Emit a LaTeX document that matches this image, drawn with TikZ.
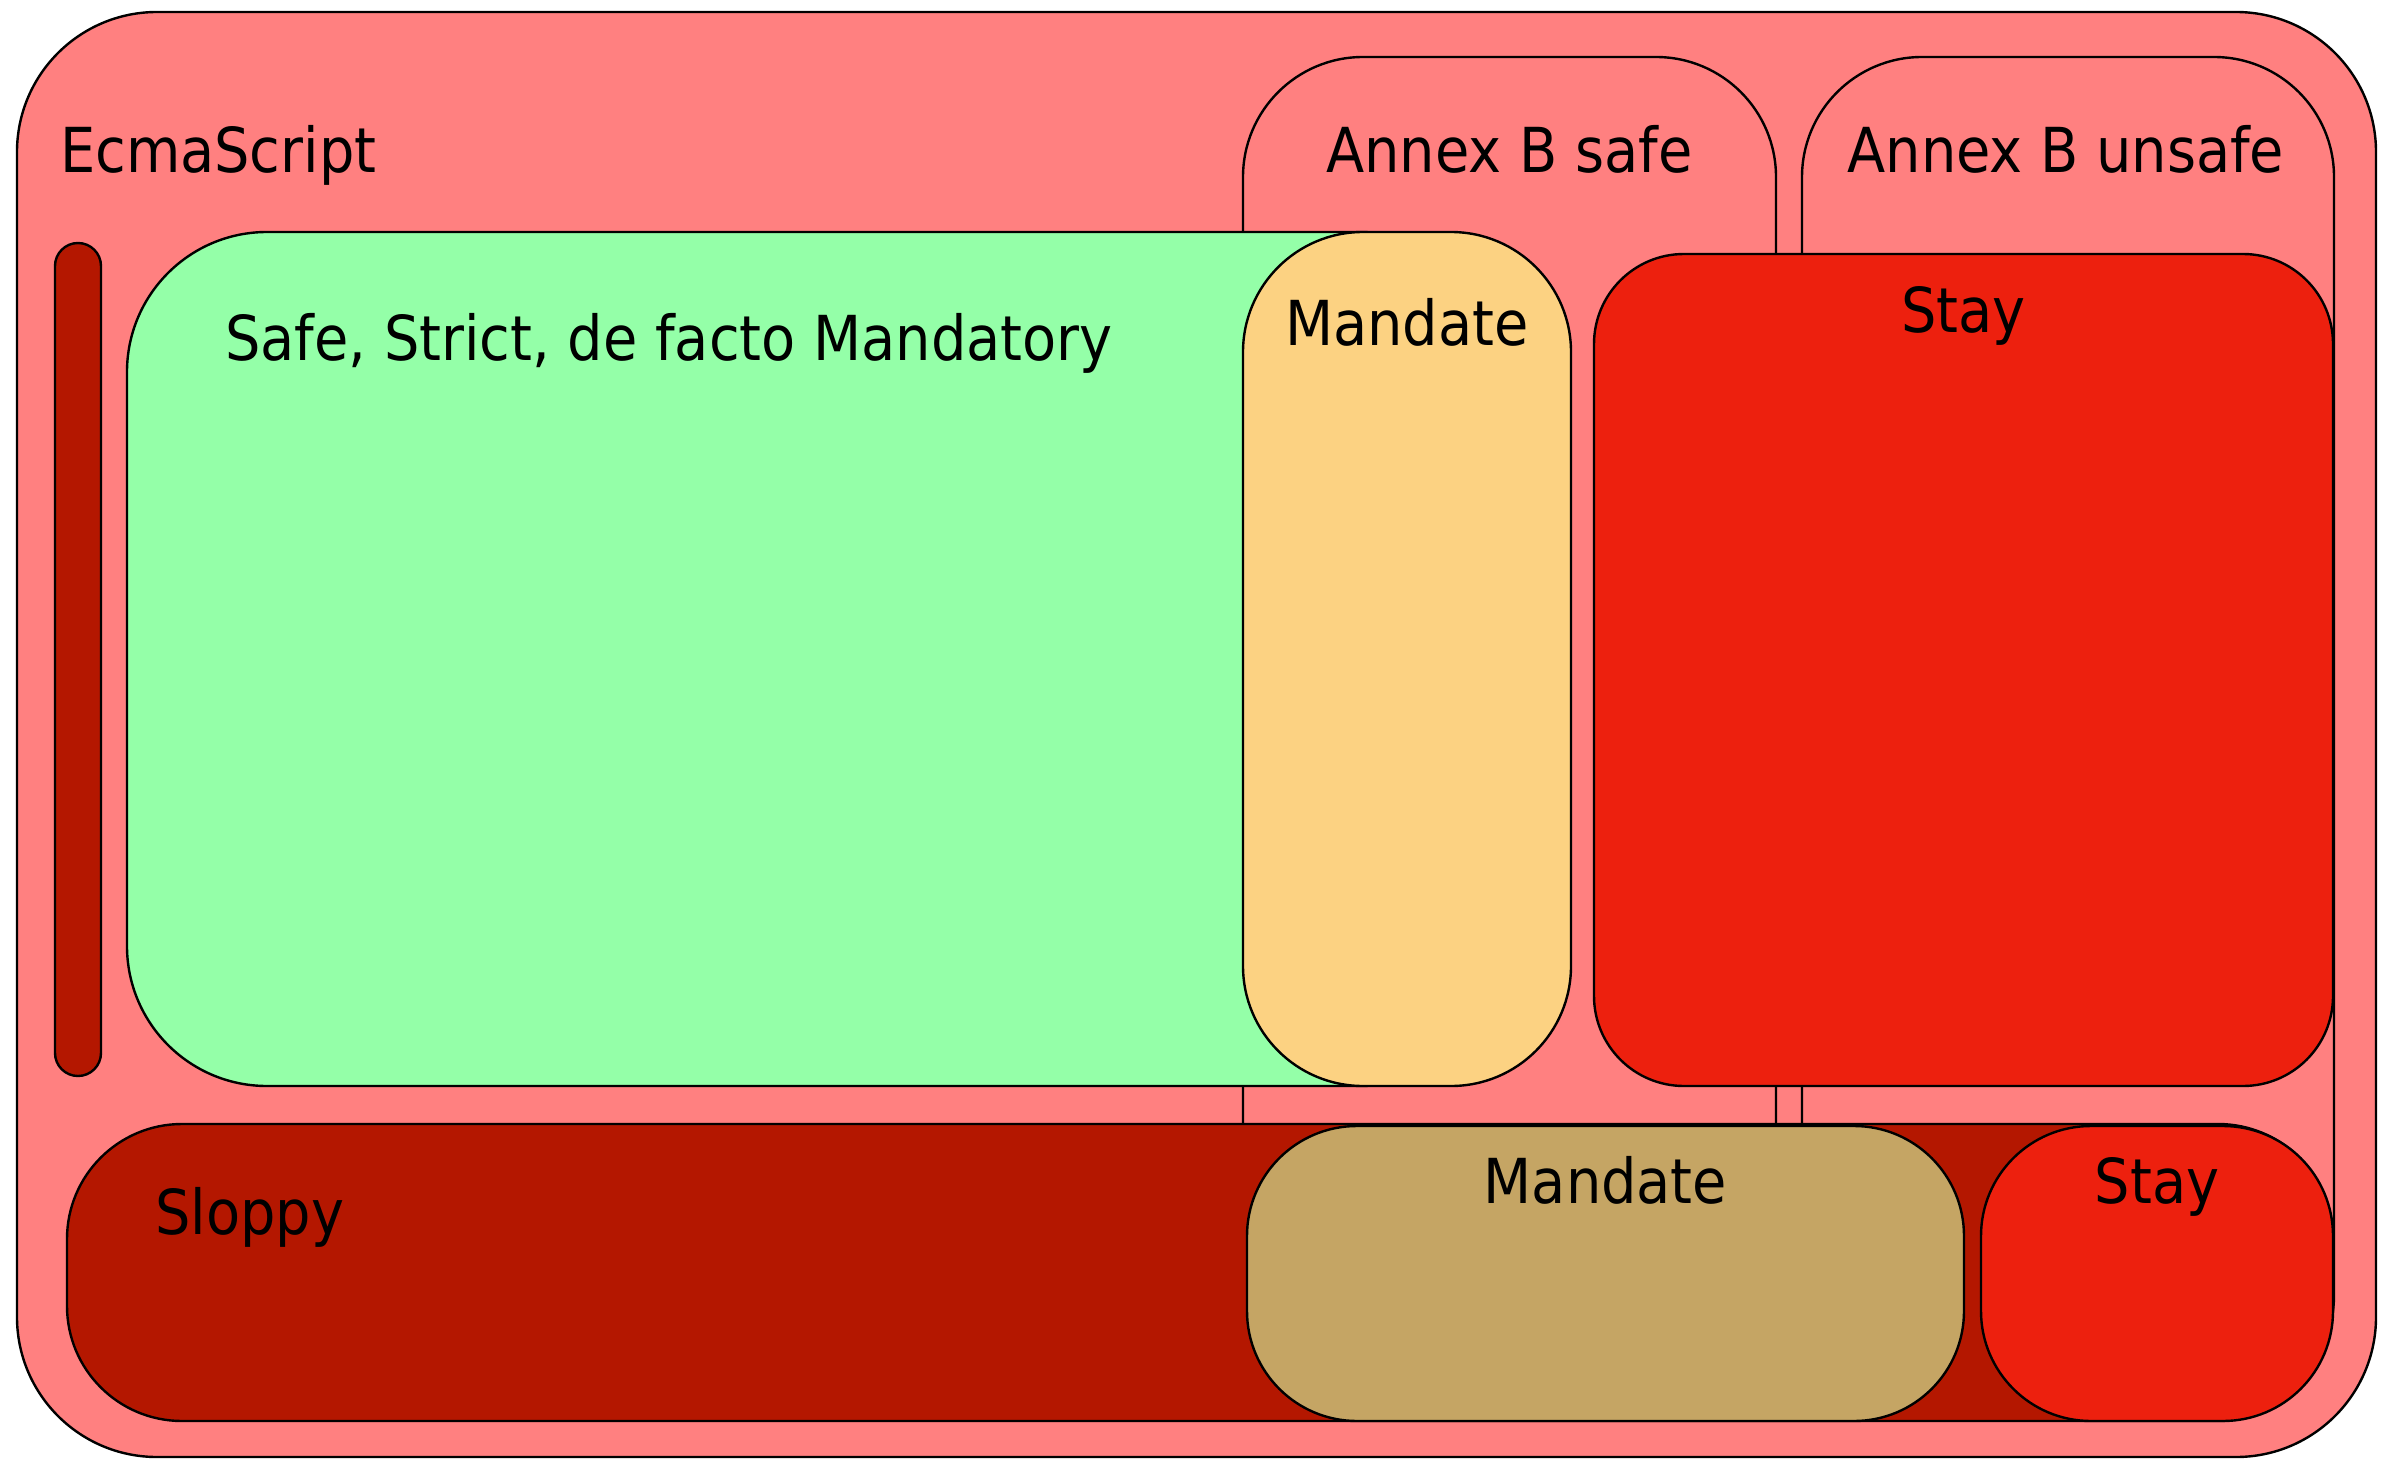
\documentclass[tikz,border=0pt]{standalone}
\usepackage{fontspec}
\setmainfont{DejaVu Sans Condensed}
\definecolor{salmon}{RGB}{255,128,128}
\definecolor{mint}{RGB}{148,255,168}
\definecolor{peach}{RGB}{252,210,130}
\definecolor{brightred}{RGB}{237,32,14}
\definecolor{darkred}{RGB}{180,23,0}
\definecolor{tan}{RGB}{197,165,100}
\tikzset{
  box/.style={draw=black, line width=2.4pt, inner sep=0pt, outer sep=0pt, rectangle},
  lbl/.style={inner sep=0pt, font=\fontsize{62}{70}\selectfont, text=black},
}
\begin{document}
\begin{tikzpicture}[x=1pt,y=-1pt]
\useasboundingbox (0,0) rectangle (2391,1461);
% containers
\node[box, fill=salmon, rounded corners=140pt, minimum width=2359pt, minimum height=1445pt] (ecma) at (1196.5,734.5) {};
\node[box, fill=salmon, rounded corners=120pt, minimum width=533pt, minimum height=1358pt] (annexsafe) at (1509.5,736) {};
\node[box, fill=salmon, rounded corners=120pt, minimum width=532pt, minimum height=1358pt] (annexunsafe) at (2068,736) {};
% left bar
\node[box, fill=darkred, rounded corners=23pt, minimum width=46pt, minimum height=833pt] (bar) at (78,659.5) {};
% strict region
\node[box, fill=mint, rounded corners=140pt, minimum width=1373pt, minimum height=854pt] (strict) at (813.5,659) {};
\node[box, fill=peach, rounded corners=120pt, minimum width=328pt, minimum height=854pt] (mandtop) at (1407,659) {};
\node[box, fill=brightred, rounded corners=90pt, minimum width=739pt, minimum height=832pt] (staytop) at (1963.5,670) {};
% sloppy region
\node[box, fill=darkred, rounded corners=115pt, minimum width=2266pt, minimum height=297pt] (sloppy) at (1200,1272.5) {};
\node[box, fill=tan, rounded corners=110pt, minimum width=717pt, minimum height=295pt] (mandbot) at (1605.5,1273.5) {};
\node[box, fill=brightred, rounded corners=110pt, minimum width=352pt, minimum height=295pt] (staybot) at (2157,1273.5) {};
% labels
\node[lbl, anchor=base west] (tecma) at (60,172) {EcmaScript};
\node[lbl, anchor=base] (tannexsafe) at (1509.5,172) {Annex B safe};
\node[lbl, anchor=base] (tannexunsafe) at (2066,172) {Annex B unsafe};
\node[lbl, anchor=base west] (tstrict) at (225,360) {Safe, Strict, de facto Mandatory};
\node[lbl, anchor=base] (tmandtop) at (1407,345) {Mandate};
\node[lbl, anchor=base] (tstaytop) at (1963.5,332) {Stay};
\node[lbl, anchor=base west] (tsloppy) at (155,1234) {Sloppy};
\node[lbl, anchor=base] (tmandbot) at (1605.5,1203) {Mandate};
\node[lbl, anchor=base] (tstaybot) at (2157,1203) {Stay};
\end{tikzpicture}
\end{document}
